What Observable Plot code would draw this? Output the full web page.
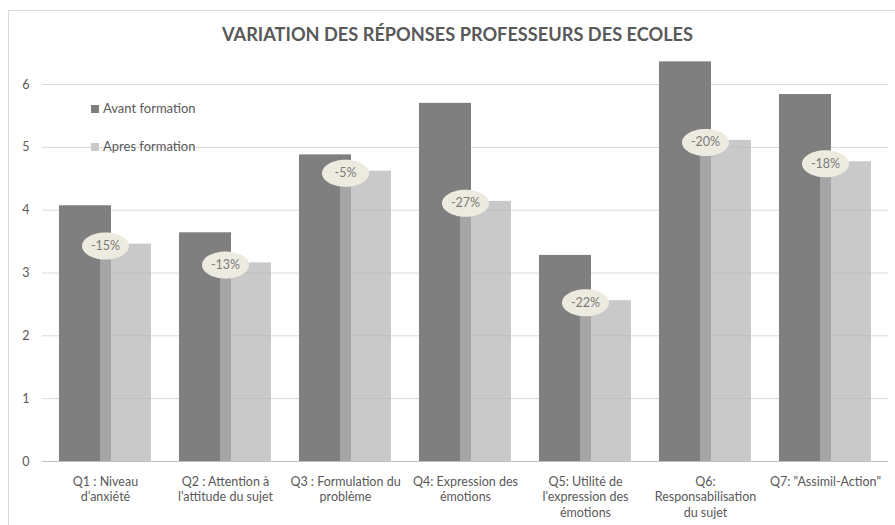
<!DOCTYPE html>
<html>
<head>
<meta charset="utf-8">
<script src="https://cdn.jsdelivr.net/npm/d3@7"></script>
<script src="https://cdn.jsdelivr.net/npm/@observablehq/plot@0.6"></script>
<style>
  html, body { margin: 0; padding: 0; background: #fff; overflow: hidden; }
  #wrap { position: relative; width: 895px; height: 525px; font-family: Lato, "Open Sans", sans-serif; }
  #border { position: absolute; left: 8px; top: 10px; width: 900px; height: 530px; border: 1px solid #d9d9d9; box-sizing: border-box; }
  #title { position: absolute; left: 10px; top: 23px; width: 895px; text-align: center; font-weight: bold; font-size: 18.2px; line-height: 22px; color: #595959; }
  .leg { position: absolute; left: 91px; font-size: 13px; color: #595959; line-height: 16px; white-space: nowrap; }
  .leg span { display: inline-block; width: 8px; height: 8px; margin-right: 4px; vertical-align: 0px; }
  #chart { position: absolute; left: 0; top: 0; }
</style>
</head>
<body>
<div id="wrap">
  <div id="border"></div>
  <div id="chart"></div>
  <div id="title"></div>
  <div id="legend"></div>
</div>
<script>
const titleText = "VARIATION DES RÉPONSES PROFESSEURS DES ECOLES";
const categories = [
  "Q1 : Niveau\nd’anxiété",
  "Q2 : Attention à\nl'attitude du sujet",
  "Q3 : Formulation du\nproblème",
  "Q4: Expression des\némotions",
  "Q5: Utilité de\nl'expression des\némotions",
  "Q6:\nResponsabilisation\ndu sujet",
  "Q7: \"Assimil-Action\""
];
const avant = [4.07, 3.64, 4.88, 5.70, 3.28, 6.36, 5.84];
const apres = [3.46, 3.16, 4.62, 4.14, 2.56, 5.11, 4.77];
const variations = ["-15%", "-13%", "-5%", "-27%", "-22%", "-20%", "-18%"];
const yTicks = [0, 1, 2, 3, 4, 5, 6];
const seriesNames = ["Avant formation", "Apres formation"];
const seriesColors = ["#7f7f7f", "#c9c9c9"];

const data = categories.map((q, i) => ({q, avant: avant[i], apres: apres[i], label: variations[i]}));

const ellipse = {
  draw(ctx) {
    const rx = 23.5, ry = 13.5, k = 0.5523;
    ctx.moveTo(rx, 0);
    ctx.bezierCurveTo(rx, ry * k, rx * k, ry, 0, ry);
    ctx.bezierCurveTo(-rx * k, ry, -rx, ry * k, -rx, 0);
    ctx.bezierCurveTo(-rx, -ry * k, -rx * k, -ry, 0, -ry);
    ctx.bezierCurveTo(rx * k, -ry, rx, -ry * k, rx, 0);
    ctx.closePath();
  }
};

const chart = Plot.plot({
  width: 895,
  height: 525,
  marginLeft: 42,
  marginRight: 7,
  marginTop: 84,
  marginBottom: 64,
  style: {fontFamily: "Lato, 'Open Sans', sans-serif", fontSize: "12px", color: "#595959", background: "transparent"},
  x: {domain: categories, paddingInner: 0.23, paddingOuter: 0.115, label: null},
  y: {domain: [0, 6], label: null},
  marks: [
    Plot.gridY(yTicks, {stroke: "#d9d9d9", strokeOpacity: 1}),
    Plot.barY(data, {x: "q", y: "avant", fill: seriesColors[0], insetRight: 40}),
    Plot.barY(data, {x: "q", y: "apres", fill: "#b4b4b4", fillOpacity: 0.72, insetLeft: 41}),
    Plot.ruleY([0], {stroke: "#bfbfbf"}),
    Plot.dot(data, {x: "q", y: "apres", symbol: ellipse, fill: "#edebe0", stroke: "none", dy: 2}),
    Plot.text(data, {x: "q", y: "apres", text: "label", dy: 2, fill: "#7a7a7a", fontSize: 12.5}),
    Plot.axisX({tickSize: 0, tickPadding: 13, fontSize: 12.5, lineHeight: 1.25, label: null, fill: "#595959"}),
    Plot.axisY(yTicks, {tickSize: 0, tickPadding: 13, fontSize: 12.5, label: null, fill: "#595959", tickFormat: d => String(d)})
  ]
});
document.getElementById("chart").appendChild(chart);
document.getElementById("title").textContent = titleText;

const legend = document.getElementById("legend");
[100, 138].forEach((top, i) => {
  const d = document.createElement("div");
  d.className = "leg";
  d.style.top = top + "px";
  const s = document.createElement("span");
  s.style.background = seriesColors[i];
  d.appendChild(s);
  d.appendChild(document.createTextNode(seriesNames[i]));
  legend.appendChild(d);
});
</script>
</body>
</html>
